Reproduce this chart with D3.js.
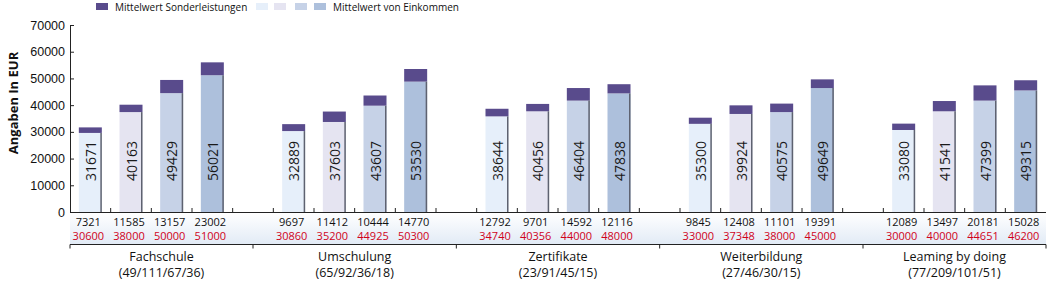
<!DOCTYPE html>
<html>
<head>
<meta charset="utf-8">
<script src="https://cdn.jsdelivr.net/npm/d3@7"></script>
<style>
  body { margin: 0; background: #fff; }
  svg { font-family: "Open Sans", "DejaVu Sans", sans-serif; }
</style>
</head>
<body>
<svg width="1058" height="284"></svg>
<script>
// gruppen en aantallen
const groups = ['Fachschule', 'Umschulung', 'Zertifikate', 'Weiterbildung', 'Leaming by doing'];
const counts = ['(49/111/67/36)', '(65/92/36/18)', '(23/91/45/15)', '(27/46/30/15)', '(77/209/101/51)'];

const einkommen = [
    [29600, 37400, 44500, 51200],
    [30300, 33700, 39800, 48800],
    [35800, 37700, 41700, 44400],
    [33000, 36700, 37400, 46400],
    [30700, 37700, 41700, 45500]
];
// totaal (label in de staaf)
const gesamt = [
    [31671, 40163, 49429, 56021],
    [32889, 37603, 43607, 53530],
    [38644, 40456, 46404, 47838],
    [35300, 39924, 40575, 49649],
    [33080, 41541, 47399, 49315]
];
// rij zwart onder de as
const rowBlack = [
    [7321, 11585, 13157, 23002],
    [9697, 11412, 10444, 14770],
    [12792, 9701, 14592, 12116],
    [9845, 12408, 11101, 19391],
    [12089, 13497, 20181, 15028]
];
// rij rood onder de as
const rowRed = [
    [30600, 38000, 50000, 51000],
    [30860, 35200, 44925, 50300],
    [34740, 40356, 44000, 48000],
    [33000, 37348, 38000, 45000],
    [30000, 40000, 44651, 46200]
];
const yTicks = [0, 10000, 20000, 30000, 40000, 50000, 60000, 70000];
const barColors = ['#e6effa', '#e5e4f1', '#c6d2e7', '#adc0dc'];
const sonderColor = '#594b8c';

const svg = d3.select('svg');
const xLeft = 70, xRight = 1046, yTop = 25, yBottom = 212;

// slots: 4 staven per groep + een lege slot tussen groepen
const slots = [];
groups.forEach((g, gi) => {
    for (let i = 0; i < 4; i++) slots.push(gi + '-' + i);
    if (gi < groups.length - 1) slots.push('gap-' + gi);
});

const pad = 0.4345;
const x = d3.scaleBand()
    .domain(slots)
    .range([xLeft, xRight])
    .paddingInner(pad)
    .paddingOuter(pad / 2);
const step = x.step();
const bw = x.bandwidth();

const y = d3.scaleLinear()
    .domain([0, 70000])
    .range([yBottom, yTop]);

// data plat maken
const bars = [];
groups.forEach((g, gi) => {
    for (let i = 0; i < 4; i++) {
        bars.push({
            key: gi + '-' + i, i: i,
            ein: einkommen[gi][i], tot: gesamt[gi][i],
            black: rowBlack[gi][i], red: rowRed[gi][i]
        });
    }
});

// achtergrond van de getallenrijen
const defs = svg.append('defs');
const grad = defs.append('linearGradient').attr('id', 'rowbg')
    .attr('x1', 0).attr('x2', 0).attr('y1', 0).attr('y2', 1);
grad.append('stop').attr('offset', '0%').attr('stop-color', '#ffffff');
grad.append('stop').attr('offset', '100%').attr('stop-color', '#e2ebf6');
svg.append('rect')
    .attr('x', xLeft).attr('y', yBottom + 1)
    .attr('width', xRight - xLeft).attr('height', 244 - yBottom - 1)
    .attr('fill', 'url(#rowbg)');

// y-as
const yAxis = svg.append('g')
    .attr('transform', `translate(${xLeft},0)`)
    .call(d3.axisLeft(y).tickValues(yTicks).tickFormat(d3.format('d')).tickSize(-4).tickPadding(5));
yAxis.select('.domain').attr('stroke', '#222');
yAxis.selectAll('.tick line').attr('stroke', '#222');
yAxis.selectAll('text').attr('font-size', 12.5).attr('fill', '#111');

svg.append('text')
    .attr('transform', 'translate(13,103) rotate(-90)')
    .attr('text-anchor', 'middle')
    .attr('dominant-baseline', 'central')
    .attr('font-size', 13)
    .attr('font-weight', 'bold')
    .attr('fill', '#111')
    .text('Angaben In EUR');

// staven
const bg = svg.append('g');
bg.selectAll('rect.ein').data(bars).enter().append('rect')
    .attr('class', 'ein')
    .attr('x', d => x(d.key))
    .attr('y', d => y(d.ein))
    .attr('width', bw)
    .attr('height', d => yBottom - y(d.ein))
    .attr('fill', d => barColors[d.i]);
bg.selectAll('rect.sonder').data(bars).enter().append('rect')
    .attr('class', 'sonder')
    .attr('x', d => x(d.key))
    .attr('y', d => y(d.tot))
    .attr('width', bw)
    .attr('height', d => y(d.ein) - y(d.tot))
    .attr('fill', sonderColor);
// donkere rechterrand
bg.selectAll('line.edge').data(bars).enter().append('line')
    .attr('x1', d => x(d.key) + bw - 0.75)
    .attr('x2', d => x(d.key) + bw - 0.75)
    .attr('y1', d => y(d.ein))
    .attr('y2', yBottom)
    .attr('stroke', '#5e6270')
    .attr('stroke-width', 1.5);

// labels in de staven
bg.selectAll('text.val').data(bars).enter().append('text')
    .attr('transform', d => `translate(${x(d.key) + bw / 2},161) rotate(-90)`)
    .attr('text-anchor', 'middle')
    .attr('dominant-baseline', 'central')
    .attr('font-size', 14)
    .attr('fill', '#1a1a1a')
    .text(d => d.tot);

// x-as met ticks tussen de slots
svg.append('line')
    .attr('x1', xLeft).attr('x2', xRight)
    .attr('y1', yBottom + 0.5).attr('y2', yBottom + 0.5)
    .attr('stroke', '#222');
const slotEdges = slots.map(s => x(s) - step * pad / 2);
svg.append('g').selectAll('line').data(slotEdges.slice(1)).enter().append('line')
    .attr('x1', d => d).attr('x2', d => d)
    .attr('y1', yBottom - 4).attr('y2', yBottom)
    .attr('stroke', '#222');

// getallenrijen
svg.append('g').selectAll('text').data(bars).enter().append('text')
    .attr('x', d => x(d.key) + bw / 2 - 2)
    .attr('y', 221)
    .attr('text-anchor', 'middle')
    .attr('dominant-baseline', 'central')
    .attr('font-size', 11)
    .attr('fill', '#111')
    .text(d => d.black);
svg.append('g').selectAll('text').data(bars).enter().append('text')
    .attr('x', d => x(d.key) + bw / 2 - 2)
    .attr('y', 235.5)
    .attr('text-anchor', 'middle')
    .attr('dominant-baseline', 'central')
    .attr('font-size', 11)
    .attr('fill', '#d0021b')
    .text(d => d.red);

// groeps-as
const bracketY = 244.5;
const groupEdges = [xLeft];
groups.forEach((g, gi) => {
    if (gi < groups.length - 1) groupEdges.push(x('gap-' + gi) + bw / 2);
});
groupEdges.push(xRight);
svg.append('line')
    .attr('x1', xLeft).attr('x2', xRight)
    .attr('y1', bracketY).attr('y2', bracketY)
    .attr('stroke', '#222');
svg.append('g').selectAll('line').data(groupEdges).enter().append('line')
    .attr('x1', d => d).attr('x2', d => d)
    .attr('y1', bracketY).attr('y2', bracketY + 4)
    .attr('stroke', '#222');

const gl = svg.append('g').selectAll('g').data(groups).enter().append('g')
    .attr('transform', (d, i) => `translate(${(groupEdges[i] + groupEdges[i + 1]) / 2},0)`);
gl.append('text')
    .attr('y', 256.5)
    .attr('text-anchor', 'middle')
    .attr('dominant-baseline', 'central')
    .attr('font-size', 12.5)
    .attr('fill', '#111')
    .text(d => d);
gl.append('text')
    .attr('y', 272.5)
    .attr('text-anchor', 'middle')
    .attr('dominant-baseline', 'central')
    .attr('font-size', 12.5)
    .attr('fill', '#111')
    .text((d, i) => counts[i]);

// legenda
const leg = svg.append('g');
leg.append('rect').attr('x', 96).attr('y', 3).attr('width', 12).attr('height', 7).attr('fill', sonderColor);
leg.append('text').attr('x', 115).attr('y', 7)
    .attr('dominant-baseline', 'central').attr('font-size', 10).attr('fill', '#111')
    .text('Mittelwert Sonderleistungen');
const swX = [256, 274, 295, 314];
leg.selectAll('rect.sw').data(barColors).enter().append('rect')
    .attr('class', 'sw')
    .attr('x', (d, i) => swX[i]).attr('y', 3)
    .attr('width', 12).attr('height', 7)
    .attr('fill', d => d);
leg.append('text').attr('x', 333).attr('y', 7)
    .attr('dominant-baseline', 'central').attr('font-size', 10).attr('fill', '#111')
    .text('Mittelwert von Einkommen');
</script>
</body>
</html>
